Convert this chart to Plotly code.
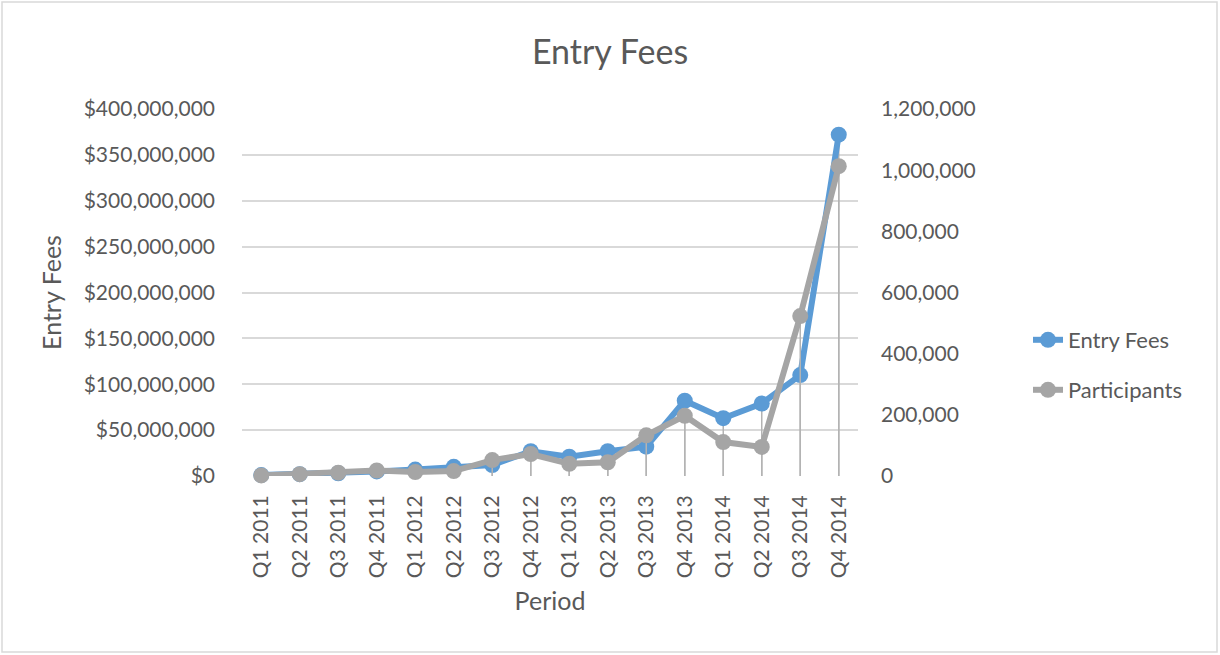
import plotly.graph_objects as go

periods = ["Q1 2011", "Q2 2011", "Q3 2011", "Q4 2011",
           "Q1 2012", "Q2 2012", "Q3 2012", "Q4 2012",
           "Q1 2013", "Q2 2013", "Q3 2013", "Q4 2013",
           "Q1 2014", "Q2 2014", "Q3 2014", "Q4 2014"]
entry_fees = [1_000_000, 2_000_000, 3_000_000, 5_000_000,
              7_000_000, 10_000_000, 12_000_000, 27_000_000,
              21_000_000, 27_000_000, 32_000_000, 82_000_000,
              63_000_000, 79_000_000, 110_000_000, 372_000_000]
participants = [2_000, 6_000, 11_000, 18_000,
                13_000, 16_000, 52_000, 72_000,
                40_000, 45_000, 133_000, 197_000,
                111_000, 95_000, 523_000, 1_013_000]
fee_ticks = [0, 50_000_000, 100_000_000, 150_000_000, 200_000_000,
             250_000_000, 300_000_000, 350_000_000, 400_000_000]
part_ticks = [0, 200_000, 400_000, 600_000, 800_000, 1_000_000, 1_200_000]

BLUE = "#5B9BD5"
GRAY = "#A5A5A5"
TXT = "#595959"
FONT = "Lato, 'Open Sans', sans-serif"

W, H = 1220, 655
L, R, T, B = 242, 858, 109, 476  # plot area in pixels


def px_x(x):
    return (x - L) / (R - L)


def px_y(y):
    return (B - y) / (B - T)


fig = go.Figure()
fig.add_trace(go.Scatter(
    x=periods, y=entry_fees, name="Entry Fees", mode="lines+markers",
    line=dict(color=BLUE, width=6), marker=dict(color=BLUE, size=16),
    error_y=dict(type="data", symmetric=False, array=[0] * len(entry_fees),
                 arrayminus=entry_fees, color="#B3B3B3", thickness=1.5, width=0),
    cliponaxis=False, legend="legend", yaxis="y",
))
fig.add_trace(go.Scatter(
    x=periods, y=participants, name="Participants", mode="lines+markers",
    line=dict(color=GRAY, width=6), marker=dict(color=GRAY, size=16),
    error_y=dict(type="data", symmetric=False, array=[0] * len(participants),
                 arrayminus=participants, color="#B3B3B3", thickness=1.5, width=0),
    cliponaxis=False, legend="legend2", yaxis="y2",
))

fig.update_layout(
    width=W, height=H,
    margin=dict(l=L, r=W - R, t=T, b=H - B, pad=0),
    paper_bgcolor="white", plot_bgcolor="white",
    font=dict(family=FONT, color=TXT, size=21),
    title=dict(text="Entry Fees", x=0.5, xref="container", xanchor="center",
               y=1 - 52 / H, yref="container", yanchor="middle",
               font=dict(size=34, color=TXT, family=FONT)),
    xaxis=dict(type="category", range=[-0.5, len(periods) - 0.5],
               tickangle=-90, showgrid=False, showline=False, zeroline=False,
               ticks="", ticklabelstandoff=14,
               tickfont=dict(size=21, color=TXT),
               title=dict(text="Period", standoff=15, font=dict(size=25, color=TXT))),
    yaxis=dict(range=[0, 400_000_000], tickvals=fee_ticks,
               tickformat="$,.0f", showgrid=True, gridcolor="#D9D9D9", gridwidth=1.5,
               zeroline=False, showline=False, ticks="", ticklabelstandoff=26,
               tickfont=dict(size=21, color=TXT),
               title=dict(text="Entry Fees", standoff=14, font=dict(size=25, color=TXT))),
    yaxis2=dict(range=[0, 1_200_000], tickvals=part_ticks, tickformat=",.0f",
                overlaying="y", side="right", showgrid=False, zeroline=False,
                showline=False, ticks="", ticklabelstandoff=22,
                tickfont=dict(size=21, color=TXT)),
    legend=dict(x=px_x(1028), y=px_y(340), xanchor="left", yanchor="middle",
                bgcolor="rgba(0,0,0,0)", font=dict(size=22, color=TXT)),
    legend2=dict(x=px_x(1028), y=px_y(390), xanchor="left", yanchor="middle",
                 bgcolor="rgba(0,0,0,0)", font=dict(size=22, color=TXT)),
    showlegend=True,
    shapes=[dict(type="rect", xref="paper", yref="paper",
                 x0=px_x(2), x1=px_x(1217), y0=px_y(652), y1=px_y(2),
                 line=dict(color="#D9D9D9", width=1.5), fillcolor="rgba(0,0,0,0)",
                 layer="below")],
)

fig.write_html("out.html",
               config={"displayModeBar": False},
               post_script="document.body.style.margin='0px';"
                           "document.body.style.overflow='hidden';")
